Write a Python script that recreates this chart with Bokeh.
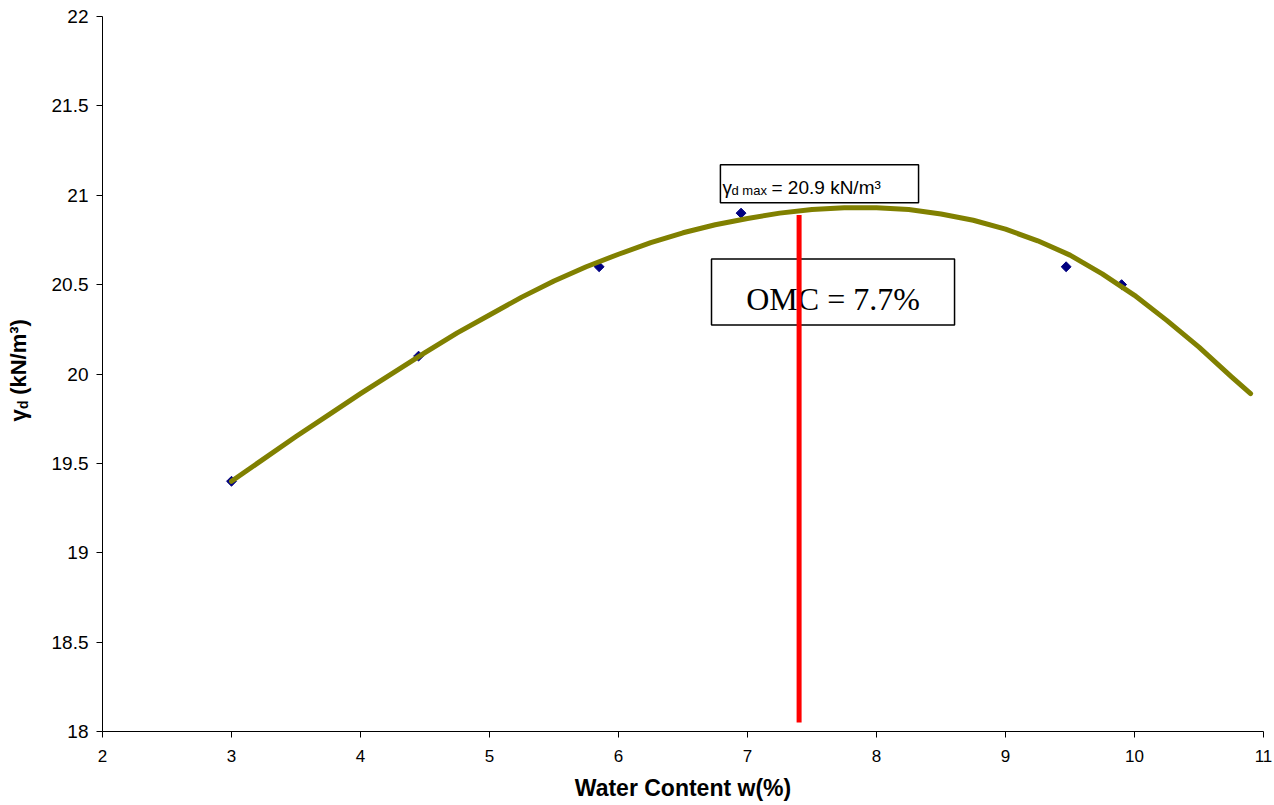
import math
from bokeh.plotting import figure
from bokeh.layouts import row
from bokeh.models import FixedTicker
from bokeh.core.properties import value
from bokeh.embed import file_html
from bokeh.resources import INLINE

# ---- data ----
water_content = [3.0, 4.45, 5.85, 6.95, 9.47, 9.9]
dry_unit_weight = [19.4, 20.1, 20.6, 20.9, 20.6, 20.5]

# trend line
fit_w = [3.0, 3.25, 3.5, 3.75, 4.0, 4.25, 4.5, 4.75, 5.0, 5.25, 5.5, 5.75, 6.0, 6.25, 6.5, 6.75,
         7.0, 7.25, 7.5, 7.75, 8.0, 8.25, 8.5, 8.75, 9.0, 9.25, 9.5, 9.75, 10.0, 10.25, 10.5,
         10.75, 10.9]
fit_gamma = [19.40, 19.525, 19.65, 19.77, 19.89, 20.005, 20.12, 20.23, 20.33, 20.43, 20.52, 20.60,
             20.67, 20.735, 20.79, 20.835, 20.87, 20.90, 20.92, 20.93, 20.93, 20.92, 20.895, 20.86,
             20.81, 20.745, 20.665, 20.56, 20.44, 20.30, 20.15, 19.985, 19.89]

# optimum moisture marker line
omc_line_w = [7.4]
omc_line_bottom = [18.05]
omc_line_top = [20.89]

x_ticks = [2, 3, 4, 5, 6, 7, 8, 9, 10, 11]
x_tick_labels = ["2", "3", "4", "5", "6", "7", "8", "9", "10", "11"]
y_ticks = [18, 18.5, 19, 19.5, 20, 20.5, 21, 21.5, 22]
y_tick_labels = ["18", "18.5", "19", "19.5", "20", "20.5", "21", "21.5", "22"]

x_title = "Water Content w(%)"
omc_text = "OMC = 7.7%"
gmax_symbol = "γ"
gmax_sub = "d max"
gmax_rest = "= 20.9 kN/m³"
y_title_symbol = "γ"
y_title_sub = "d"
y_title_rest = "(kN/m³)"

SANS = "Liberation Sans"
SERIF = "Liberation Serif"

# ---- main chart ----
p = figure(width=1229, height=805, x_range=(2, 11), y_range=(18, 22),
           output_backend="svg", toolbar_location=None,
           min_border_left=57, min_border_right=11, min_border_top=16, min_border_bottom=74)
p.grid.visible = False
p.outline_line_color = None
p.background_fill_color = "white"
p.border_fill_color = "white"

p.xaxis.ticker = FixedTicker(ticks=x_ticks)
p.xaxis.major_label_overrides = {t: l for t, l in zip(x_ticks, x_tick_labels)}
p.yaxis.ticker = FixedTicker(ticks=y_ticks)
p.yaxis.major_label_overrides = {t: l for t, l in zip(y_ticks, y_tick_labels)}

for ax in (p.xaxis[0], p.yaxis[0]):
    ax.axis_line_color = "black"
    ax.axis_line_width = 1
    ax.major_tick_line_color = "black"
    ax.major_tick_out = 6
    ax.major_tick_in = 0
    ax.minor_tick_line_color = None
    ax.major_label_text_font = SANS
    ax.major_label_text_color = "black"
p.xaxis.major_label_text_font_size = "17px"
p.yaxis.major_label_text_font_size = "19px"
p.xaxis.major_label_standoff = 12
p.yaxis.major_label_standoff = 8

p.xaxis.axis_label = x_title
p.xaxis.axis_label_text_font = SANS
p.xaxis.axis_label_text_font_size = "23px"
p.xaxis.axis_label_text_font_style = "bold"
p.xaxis.axis_label_text_color = "black"
p.xaxis.axis_label_standoff = 10

# data points, then trend curve on top
p.scatter(water_content, dry_unit_weight, marker="square", angle=math.pi / 4, size=7,
          fill_color="#000080", line_color="#000080")
p.line(fit_w, fit_gamma, line_color="#808000", line_width=5, line_cap="round", line_join="round")

# annotation box: gamma d max
p.quad(left=[6.79], right=[8.326], top=[21.171], bottom=[20.958],
       fill_color="white", line_color="black", line_width=1.5)
p.text(x=[6.806], y=[21.042], text=[gmax_symbol], text_font=value(SANS), text_font_size="19px",
       text_align="left", text_baseline="alphabetic", text_color="black")
p.text(x=[6.876], y=[21.025], text=[gmax_sub], text_font=value(SANS), text_font_size="13px",
       text_align="left", text_baseline="alphabetic", text_color="black")
p.text(x=[7.186], y=[21.042], text=[gmax_rest], text_font=value(SANS), text_font_size="19px",
       text_align="left", text_baseline="alphabetic", text_color="black")

# annotation box: OMC
p.quad(left=[6.721], right=[8.605], top=[20.644], bottom=[20.274],
       fill_color="white", line_color="black", line_width=1.5)
p.text(x=[7.663], y=[20.42], text=[omc_text], text_font=value(SERIF), text_font_size="32px",
       text_align="center", text_baseline="alphabetic", text_color="black")

# red vertical line
p.segment(x0=omc_line_w, y0=omc_line_bottom, x1=omc_line_w, y1=omc_line_top,
          line_color="#FF0000", line_width=5)

# ---- narrow strip holding the rotated y-axis title (with subscript) ----
s = figure(width=45, height=805, x_range=(0, 45), y_range=(0, 805),
           x_axis_location=None, y_axis_location=None, min_border=0,
           output_backend="svg", toolbar_location=None)
s.outline_line_color = None
s.grid.visible = False
s.background_fill_color = "white"
s.border_fill_color = "white"
s.text(x=[18], y=[349], text=[y_title_symbol], angle=math.pi / 2, text_font=value(SANS),
       text_font_size="22px", text_font_style="bold", text_align="left",
       text_baseline="alphabetic", text_color="black")
s.text(x=[22], y=[363], text=[y_title_sub], angle=math.pi / 2, text_font=value(SANS),
       text_font_size="14px", text_font_style="bold", text_align="left",
       text_baseline="alphabetic", text_color="black")
s.text(x=[18], y=[379], text=[y_title_rest], angle=math.pi / 2, text_font=value(SANS),
       text_font_size="22px", text_font_style="bold", text_align="left",
       text_baseline="alphabetic", text_color="black")

layout = row(s, p)
open("out.html", "w").write(file_html(layout, INLINE))
